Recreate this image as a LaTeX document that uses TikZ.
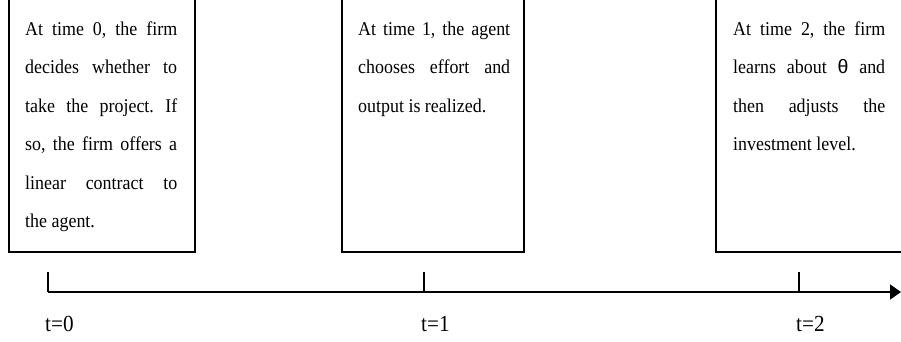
\documentclass[tikz,border=0pt]{standalone}
\usepackage{fontspec}
\setmainfont{Liberation Serif}[FakeStretch=0.92]
\newfontfamily\thetafont{Liberation Sans}
\usetikzlibrary{arrows.meta}
\frenchspacing
\begin{document}
\begin{tikzpicture}[x=1pt,y=1pt,
  eventbox/.style={draw, line width=1.6pt, inner sep=0pt, anchor=south west, minimum height=275pt},
  eventtext/.style={anchor=base west, inner sep=0pt, text width=152pt, align=justify,
    font=\fontsize{19.5}{38.5}\selectfont},
  axisline/.style={line width=1.6pt, -{Triangle[length=11pt,width=15pt]}},
  tickline/.style={line width=1.5pt},
  timelabel/.style={anchor=base west, inner sep=0pt, font=\fontsize{23}{26}\selectfont}
]
\useasboundingbox (0,0) rectangle (901,-341);
\clip (0,0) rectangle (901,-341);
\fill[white] (0,0) rectangle (901,-341);

% boxes
\node[eventbox, minimum width=186pt] (box0) at (8,-253) {};
\node[eventbox, minimum width=182pt] (box1) at (341,-253) {};
\node[eventbox, minimum width=195pt] (box2) at (715,-253) {};

% texts
\node[eventtext] (txt0) at (25,-35) {At time 0, the firm\linebreak decides whether to\linebreak take the project. If\linebreak so, the firm offers a\linebreak linear contract to\linebreak the agent.};
\node[eventtext] (txt1) at (358,-35) {At time 1, the agent\linebreak chooses effort and\linebreak output is realized.};
\node[eventtext] (txt2) at (733,-35) {At time 2, the firm\linebreak learns about {\thetafont θ} and\linebreak then adjusts the\linebreak investment level.};

% timeline
\coordinate (t0) at (48,-292);
\coordinate (t1) at (424,-292);
\coordinate (t2) at (799,-292);
\coordinate (tend) at (901,-292);
\coordinate (t0top) at (48,-272);
\coordinate (t1top) at (424,-272);
\coordinate (t2top) at (799,-272);
\draw[axisline] (t0) -- (tend);
\draw[tickline] (t0top) -- (t0);
\draw[tickline] (t1top) -- (t1);
\draw[tickline] (t2top) -- (t2);

% labels
\node[timelabel] (lab0) at (45,-331) {t=0};
\node[timelabel] (lab1) at (421,-331) {t=1};
\node[timelabel] (lab2) at (796,-331) {t=2};
\end{tikzpicture}
\end{document}
